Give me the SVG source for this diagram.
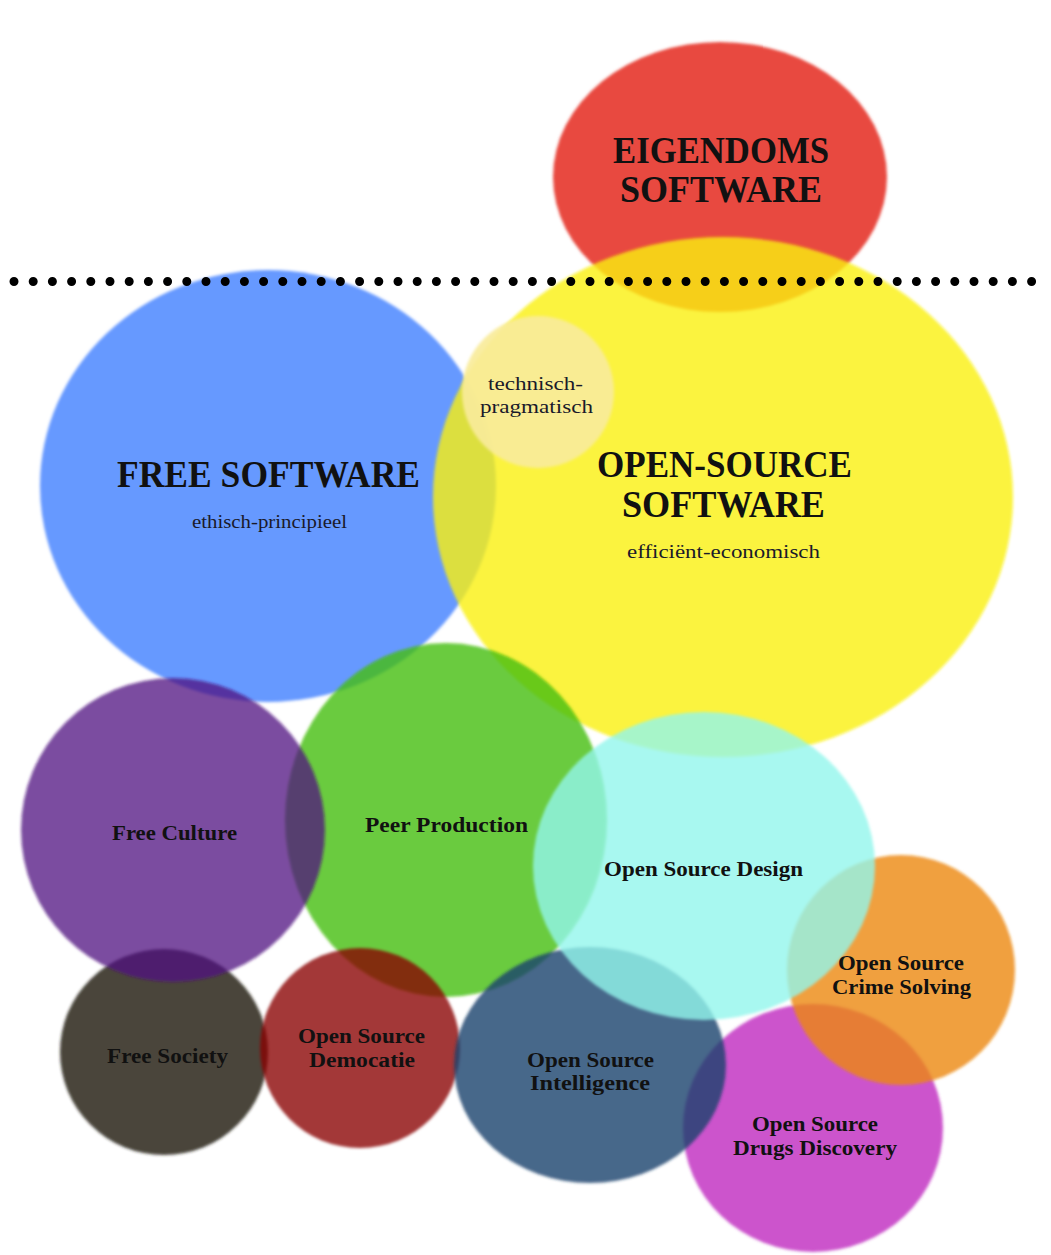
<svg xmlns="http://www.w3.org/2000/svg" width="1051" height="1255" viewBox="0 0 1051 1255">
  <defs>
    <filter id="soft" x="-10%" y="-10%" width="120%" height="120%">
      <feGaussianBlur stdDeviation="1.8"/>
    </filter>
    <filter id="shadowBlur" x="-5%" y="-200%" width="110%" height="500%">
      <feGaussianBlur stdDeviation="3"/>
    </filter>
    <style>
      .lbl { font-family: "Liberation Serif", "DejaVu Serif", serif; font-weight: bold; fill: #111; text-anchor: middle; }
      .big { font-size: 37px; }
      .mid { font-size: 22px; }
      .two { font-size: 20px; }
      .sub { font-family: "Liberation Serif", "DejaVu Serif", serif; font-size: 19px; fill: #1a1a2a; text-anchor: middle; }
      .blob { filter: url(#soft); }
    </style>
  </defs>
  <rect width="1051" height="1255" fill="#ffffff"/>

  <g id="eigendoms-software">
    <ellipse class="blob" cx="720" cy="177" rx="167" ry="135" fill="#E84A3F"/>
    <text class="lbl big" x="721" y="163" textLength="216" lengthAdjust="spacingAndGlyphs">EIGENDOMS</text>
    <text class="lbl big" x="721" y="202" textLength="202" lengthAdjust="spacingAndGlyphs">SOFTWARE</text>
  </g>

  <g id="free-software">
    <ellipse class="blob" cx="268" cy="486" rx="228" ry="216" fill="#6699FF"/>
  </g>

  <g id="open-source-software">
    <ellipse class="blob" cx="723" cy="497" rx="290" ry="260" fill="#FAF00F" fill-opacity="0.8"/>
  </g>

  <g id="technisch-pragmatisch">
    <circle class="blob" cx="538" cy="392" r="76" fill="#F8EC9A" fill-opacity="0.92"/>
    <text class="sub" x="535.5" y="390" textLength="95" lengthAdjust="spacingAndGlyphs">technisch-</text>
    <text class="sub" x="536.5" y="413" textLength="113" lengthAdjust="spacingAndGlyphs">pragmatisch</text>
  </g>

  <g id="free-society">
    <ellipse class="blob" cx="164" cy="1052" rx="104" ry="103" fill="#2A241A" fill-opacity="0.85"/>
  </g>

  <g id="peer-production">
    <ellipse class="blob" cx="446" cy="820" rx="161" ry="177" fill="#46BE09" fill-opacity="0.8"/>
  </g>

  <g id="free-culture">
    <circle class="blob" cx="173" cy="830" r="152" fill="#4F1480" fill-opacity="0.75"/>
  </g>

  <g id="open-source-democatie">
    <circle class="blob" cx="360" cy="1048" r="100" fill="#890603" fill-opacity="0.78"/>
  </g>

  <g id="open-source-drugs-discovery">
    <ellipse class="blob" cx="813" cy="1128" rx="130" ry="124" fill="#C337C3" fill-opacity="0.85"/>
  </g>

  <g id="open-source-crime-solving">
    <ellipse class="blob" cx="901" cy="970" rx="114" ry="115" fill="#EC8810" fill-opacity="0.8"/>
  </g>

  <g id="open-source-intelligence">
    <ellipse class="blob" cx="590" cy="1065" rx="136" ry="118" fill="#15416D" fill-opacity="0.8"/>
  </g>

  <g id="open-source-design">
    <ellipse class="blob" cx="704" cy="866" rx="171" ry="154" fill="#92F6EC" fill-opacity="0.8"/>
  </g>

  <g id="labels">
    <text class="lbl big" x="268.5" y="487" textLength="303" lengthAdjust="spacingAndGlyphs">FREE SOFTWARE</text>
    <text class="sub" x="269.5" y="528" font-size="18" textLength="155" lengthAdjust="spacingAndGlyphs">ethisch-principieel</text>
    <text class="lbl big" x="724.5" y="477" textLength="255" lengthAdjust="spacingAndGlyphs">OPEN-SOURCE</text>
    <text class="lbl big" x="723.5" y="517" textLength="203" lengthAdjust="spacingAndGlyphs">SOFTWARE</text>
    <text class="sub" x="723.5" y="558" textLength="193" lengthAdjust="spacingAndGlyphs">efficiënt-economisch</text>
    <text class="lbl mid" x="174.5" y="840" textLength="125" lengthAdjust="spacingAndGlyphs">Free Culture</text>
    <text class="lbl mid" x="446.5" y="832" textLength="163" lengthAdjust="spacingAndGlyphs">Peer Production</text>
    <text class="lbl mid" x="703.5" y="876" textLength="199" lengthAdjust="spacingAndGlyphs">Open Source Design</text>
    <text class="lbl two" x="901" y="970" textLength="126" lengthAdjust="spacingAndGlyphs">Open Source</text>
    <text class="lbl two" x="901.5" y="994" textLength="139" lengthAdjust="spacingAndGlyphs">Crime Solving</text>
    <text class="lbl two" x="590.5" y="1067" textLength="127" lengthAdjust="spacingAndGlyphs">Open Source</text>
    <text class="lbl two" x="590" y="1090" textLength="120" lengthAdjust="spacingAndGlyphs">Intelligence</text>
    <text class="lbl two" x="815" y="1131" textLength="126" lengthAdjust="spacingAndGlyphs">Open Source</text>
    <text class="lbl two" x="815" y="1155" textLength="164" lengthAdjust="spacingAndGlyphs">Drugs Discovery</text>
    <text class="lbl mid" x="167.5" y="1063" textLength="121" lengthAdjust="spacingAndGlyphs">Free Society</text>
    <text class="lbl two" x="361.5" y="1043" textLength="127" lengthAdjust="spacingAndGlyphs">Open Source</text>
    <text class="lbl two" x="362" y="1067" textLength="106" lengthAdjust="spacingAndGlyphs">Democatie</text>
  </g>

  <g id="connectors">
    <line x1="14" y1="292" x2="1046" y2="292" stroke="#777" stroke-opacity="0.35" stroke-width="12" filter="url(#shadowBlur)"/>
    <line x1="14" y1="281.5" x2="1046" y2="281.5" stroke="#000" stroke-width="9" stroke-linecap="round" stroke-dasharray="0 19.2"/>
  </g>
</svg>
